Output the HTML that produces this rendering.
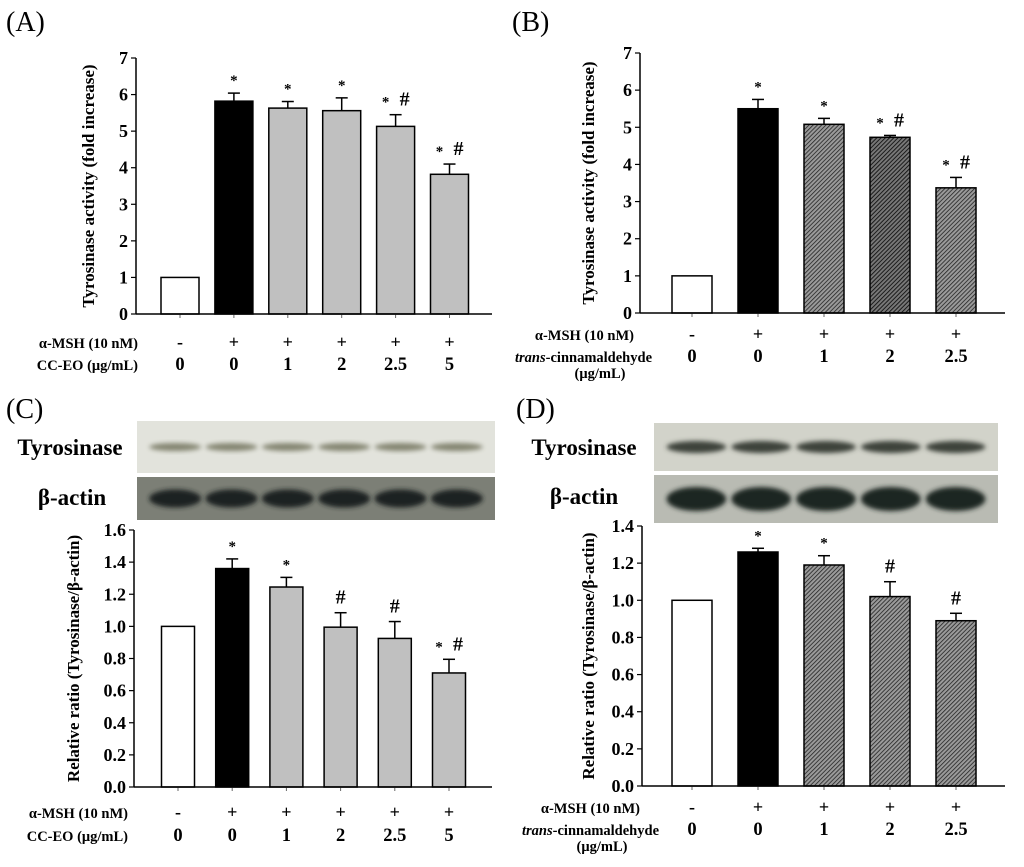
<!DOCTYPE html>
<html><head><meta charset="utf-8"><style>
html,body{margin:0;padding:0;background:#fff;}
svg{display:block;font-family:"Liberation Serif",serif;}
</style></head><body>
<svg id="fig" width="1024" height="867" viewBox="0 0 1024 867" xmlns="http://www.w3.org/2000/svg">
<defs>
<pattern id="hatch" patternUnits="userSpaceOnUse" width="3" height="3" patternTransform="rotate(45)">
<rect width="3" height="3" fill="#9a9a9a"/><line x1="0" y1="0" x2="0" y2="3" stroke="#222" stroke-width="1.6"/>
</pattern>
<pattern id="hatchDark" patternUnits="userSpaceOnUse" width="3" height="3" patternTransform="rotate(45)">
<rect width="3" height="3" fill="#777"/><line x1="0" y1="0" x2="0" y2="3" stroke="#111" stroke-width="1.8"/>
</pattern>
<filter id="blur" x="-20%" y="-50%" width="140%" height="200%"><feGaussianBlur stdDeviation="2.5"/></filter>
</defs>
<text x="6" y="31" font-size="28">(A)</text>
<text x="512" y="31" font-size="28">(B)</text>
<text x="6" y="418" font-size="28">(C)</text>
<text x="516" y="418" font-size="28">(D)</text>
<g id="blots"></g>
<g id="charts"></g>
</svg>
<script>
// Panel A data
const catsA = ["0","0","1","2","2.5","5"];
const mshA = ["-","+","+","+","+","+"];
const valsA = [1, 5.82, 5.63, 5.56, 5.13, 3.82];
const errsA = [0, 0.22, 0.18, 0.35, 0.32, 0.28];
const starA = [0,1,1,1,1,1];
const hashA = [0,0,0,0,1,1];
const ticksA = ["0","1","2","3","4","5","6","7"];
// Panel B data
const catsB = ["0","0","1","2","2.5"];
const mshB = ["-","+","+","+","+"];
const valsB = [1, 5.5, 5.08, 4.73, 3.37];
const errsB = [0, 0.25, 0.16, 0.05, 0.28];
const starB = [0,1,1,1,1];
const hashB = [0,0,0,1,1];
const ticksB = ["0","1","2","3","4","5","6","7"];
// Panel C data
const catsC = ["0","0","1","2","2.5","5"];
const mshC = ["-","+","+","+","+","+"];
const valsC = [1.0, 1.36, 1.245, 0.995, 0.925, 0.71];
const errsC = [0, 0.06, 0.06, 0.09, 0.105, 0.085];
const starC = [0,1,1,0,0,1];
const hashC = [0,0,0,1,1,1];
const ticksC = ["0.0","0.2","0.4","0.6","0.8","1.0","1.2","1.4","1.6"];
// Panel D data
const catsD = ["0","0","1","2","2.5"];
const mshD = ["-","+","+","+","+"];
const valsD = [1.0, 1.26, 1.19, 1.02, 0.89];
const errsD = [0, 0.02, 0.05, 0.08, 0.04];
const starD = [0,1,1,0,0];
const hashD = [0,0,0,1,1];
const ticksD = ["0.0","0.2","0.4","0.6","0.8","1.0","1.2","1.4"];

const NS = "http://www.w3.org/2000/svg";
function mk(parent, tag, attrs, text){
  const e = document.createElementNS(NS, tag);
  for (const k in attrs) e.setAttribute(k, attrs[k]);
  if (text !== undefined) e.textContent = text;
  parent.appendChild(e);
  return e;
}
const charts = document.getElementById("charts");

function drawPanel(p){
  const g = mk(charts, "g", {});
  
  
  const yMax = parseFloat(p.ticks[p.ticks.length-1]);
  const ys = v => p.y0 - v * (p.y0 - p.yTop) / yMax;
  const xs = i => p.c0 + i * p.step;
  p.vals.forEach((v, i) => {
    const fill = i === 0 ? "#fff" : (i === 1 ? "#000" : p.fill(i));
    const r = mk(g, "rect", {x: xs(i) - p.bw/2, y: ys(v), width: p.bw, height: p.y0 - ys(v), fill: fill, stroke: "#000", "stroke-width": 1.5});
    
    
    if (p.errs[i] > 0){
      const top = ys(v + p.errs[i]);
      const e1 = mk(g, "line", {x1: xs(i), x2: xs(i), y1: ys(v), y2: top, stroke: "#000", "stroke-width": 1.5});
      
      
      mk(g, "line", {x1: xs(i) - 6, x2: xs(i) + 6, y1: top, y2: top, stroke: "#000", "stroke-width": 1.5});
    }
    const top = ys(v + p.errs[i]);
    if (p.star[i] && p.hash[i]){
      const s = mk(g, "text", {x: xs(i) - 10, y: top - 8, "font-size": 15, "font-weight": "bold", "text-anchor": "middle"}, "*");
       
      const h = mk(g, "text", {x: xs(i) + 9, y: top - 9, "font-size": 20, "font-weight": "bold", "text-anchor": "middle"}, "#");
       
    } else if (p.star[i]){
      const s = mk(g, "text", {x: xs(i), y: top - 8, "font-size": 15, "font-weight": "bold", "text-anchor": "middle"}, "*");
       
    } else if (p.hash[i]){
      const h = mk(g, "text", {x: xs(i), y: top - 9, "font-size": 20, "font-weight": "bold", "text-anchor": "middle"}, "#");
       
    }
    mk(g, "line", {x1: xs(i), x2: xs(i), y1: p.y0, y2: p.y0 + 4, stroke: "#666", "stroke-width": 1});
    const m = mk(g, "text", {x: xs(i), y: p.row1, "font-size": 18, "font-weight": "bold", "text-anchor": "middle"}, p.msh[i]);
     
    const c = mk(g, "text", {x: xs(i), y: p.row2, "font-size": 18.5, "font-weight": "bold", "text-anchor": "middle"}, p.cats[i]);
     
  });
  const ya = mk(g, "line", {x1: p.ax, x2: p.ax, y1: p.yTop, y2: p.y0, stroke: "#000", "stroke-width": 1.5});
   
  const xa = mk(g, "line", {x1: p.ax, x2: p.xEnd, y1: p.y0, y2: p.y0, stroke: "#000", "stroke-width": 1.5});
   
  p.ticks.forEach(t => {
    const y = ys(parseFloat(t));
    mk(g, "line", {x1: p.ax - 5, x2: p.ax, y1: y, y2: y, stroke: "#000", "stroke-width": 1.2});
    const tl = mk(g, "text", {x: p.ax - 8, y: y + 6, "font-size": 18, "font-weight": "bold", "text-anchor": "end"}, t);
     
  });
  const tcx = p.titleX, tcy = (p.y0 + p.yTop) / 2;
  const tt = mk(g, "text", {x: tcx, y: tcy, "font-size": 17, "font-weight": "bold", "text-anchor": "middle", transform: `rotate(-90 ${tcx} ${tcy})`}, p.title);
   
  const r1 = mk(g, "text", {x: p.rowX, y: p.row1, "font-size": 14.5, "font-weight": "bold", "text-anchor": "end"}, "α-MSH (10 nM)");
   
  if (p.trans){
    const r2 = mk(g, "text", {x: p.rowX2, y: p.row2, "font-size": 14.5, "font-weight": "bold", "text-anchor": "end"});
     
    mk(r2, "tspan", {"font-style": "italic"}, "trans");
    mk(r2, "tspan", {}, "-cinnamaldehyde");
    const r3 = mk(g, "text", {x: p.unitX, y: p.row2 + 16, "font-size": 14.5, "font-weight": "bold", "text-anchor": "middle"}, "(μg/mL)");
     
  } else {
    const r2 = mk(g, "text", {x: p.rowX, y: p.row2, "font-size": 14.5, "font-weight": "bold", "text-anchor": "end"}, "CC-EO (μg/mL)");
     
  }
}

drawPanel({id:"panel-a", cats:catsA, msh:mshA, vals:valsA, errs:errsA, star:starA, hash:hashA, ticks:ticksA,
  ax:136, xEnd:492, y0:314, yTop:58, c0:180, step:53.9, bw:38, fill:()=>"#c0c0c0",
  title:"Tyrosinase activity (fold increase)", titleX:94, rowX:138, row1:348, row2:370, trans:false});
drawPanel({id:"panel-b", cats:catsB, msh:mshB, vals:valsB, errs:errsB, star:starB, hash:hashB, ticks:ticksB,
  ax:640, xEnd:1005, y0:313, yTop:53, c0:692, step:66, bw:40, fill:i=> i===3 ? "url(#hatchDark)" : "url(#hatch)",
  title:"Tyrosinase activity (fold increase)", titleX:594, rowX:634, rowX2:652, unitX:600, row1:340, row2:362, trans:true});
drawPanel({id:"panel-c", cats:catsC, msh:mshC, vals:valsC, errs:errsC, star:starC, hash:hashC, ticks:ticksC,
  ax:134, xEnd:492, y0:787, yTop:530, c0:178, step:54.2, bw:33, fill:()=>"#c0c0c0",
  title:"Relative ratio (Tyrosinase/β-actin)", titleX:79, rowX:128, row1:818, row2:841, trans:false});
drawPanel({id:"panel-d", cats:catsD, msh:mshD, vals:valsD, errs:errsD, star:starD, hash:hashD, ticks:ticksD,
  ax:642, xEnd:1005, y0:786, yTop:526, c0:692, step:66, bw:40, fill:()=>"url(#hatch)",
  title:"Relative ratio (Tyrosinase/β-actin)", titleX:594, rowX:640, rowX2:659, unitX:602, row1:813, row2:835, trans:true});

const blots = document.getElementById("blots");
function blot(id, x, y, w, h, bg, band, n, bandH, opac){
  const g = mk(blots, "g", {});
  
  
  mk(g, "rect", {x:x, y:y, width:w, height:h, fill:bg});
  const lw = (w - 20) / n;
  for (let i = 0; i < n; i++){
    mk(g, "ellipse", {cx: x + 10 + lw*(i+0.5), cy: y + h/2, rx: lw*0.46, ry: bandH, fill: band, opacity: opac, filter:"url(#blur)"});
  }
}
blot("panel-c-tyrosinase-blot", 137, 421, 358, 52, "#e2e3dc", "#7a7c66", 6, 4, 0.9);
blot("panel-c-actin-blot", 137, 477, 358, 43, "#7c7f76", "#1c2220", 6, 9, 1);
blot("panel-d-tyrosinase-blot", 654, 423, 344, 48, "#d2d3ca", "#3e423a", 5, 6, 1);
blot("panel-d-actin-blot", 654, 475, 344, 48, "#b9bbb3", "#1f2622", 5, 12, 1);
const lab = [["panel-c-tyrosinase-label",70,455,"Tyrosinase"],["panel-c-actin-label",72,505,"β-actin"],
             ["panel-d-tyrosinase-label",584,455,"Tyrosinase"],["panel-d-actin-label",584,504,"β-actin"]];
lab.forEach(l => {
  const t = mk(blots, "text", {x:l[1], y:l[2], "font-size":23, "font-weight":"bold", "text-anchor":"middle"}, l[3]);
  
  
});
</script>
</body></html>
